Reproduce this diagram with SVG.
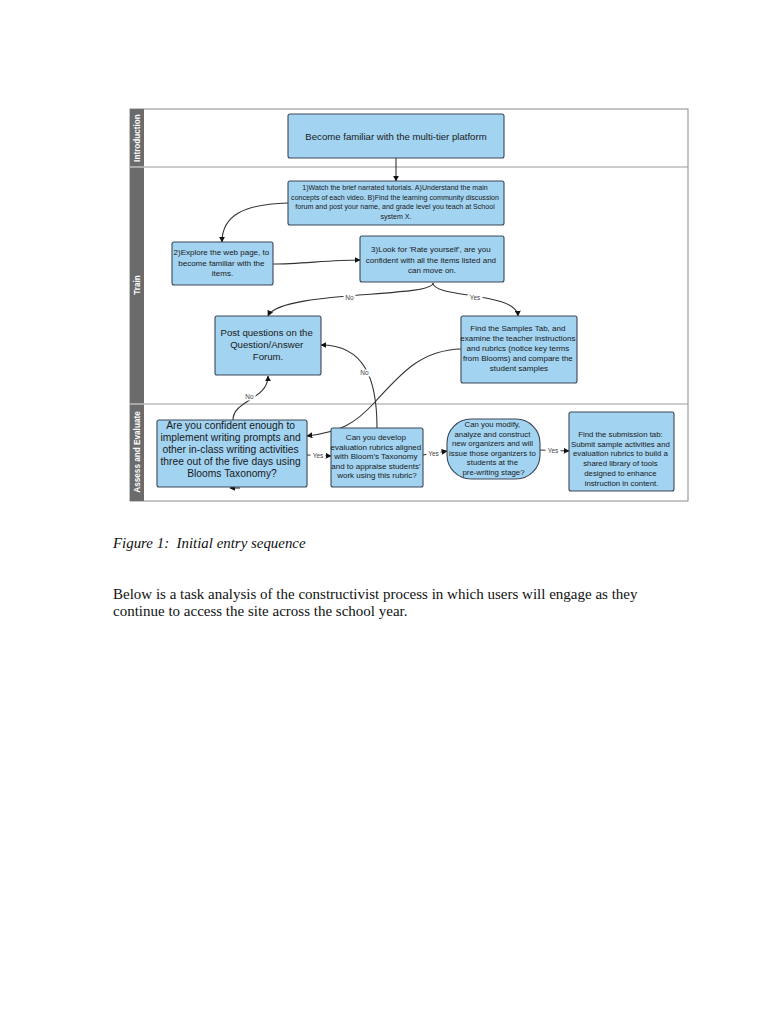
<svg xmlns="http://www.w3.org/2000/svg" width="768" height="1024" viewBox="0 0 768 1024">
<style>
.box{fill:#a2d3f1;stroke:#3b4858;stroke-width:1.1}
.t{font-family:"Liberation Sans",Arial,sans-serif;fill:#1a1a1a;text-anchor:middle}
.lane{font-family:"Liberation Sans",Arial,sans-serif;font-weight:bold;fill:#ffffff;font-size:8.2px;text-anchor:middle}
.c{fill:none;stroke:#333;stroke-width:1.1;marker-end:url(#ah)}
.lbl{font-family:"Liberation Sans",Arial,sans-serif;font-size:6.5px;fill:#444;text-anchor:middle}
.lb{fill:#ffffff}
.cap{font-family:"Liberation Serif","Times New Roman",serif;fill:#111}
</style>
<defs>
<marker id="ah" viewBox="0 0 10 10" refX="9" refY="5" markerWidth="6" markerHeight="6" markerUnits="userSpaceOnUse" orient="auto">
<path d="M0,0 L10,5 L0,10 z" fill="#111"/>
</marker>
</defs>
<rect width="768" height="1024" fill="#ffffff"/>
<g id="lanes">
<rect x="130" y="109" width="558" height="392" fill="#ffffff" stroke="#8a8a8a" stroke-width="1"/>
<rect x="130" y="109" width="14" height="392" fill="#6b6b6b"/>
<line x1="130" y1="167" x2="688" y2="167" stroke="#9a9a9a" stroke-width="1"/>
<line x1="130" y1="404" x2="688" y2="404" stroke="#9a9a9a" stroke-width="1"/>
<line x1="130" y1="167" x2="144" y2="167" stroke="#d0d0d0" stroke-width="1"/>
<line x1="130" y1="404" x2="144" y2="404" stroke="#d0d0d0" stroke-width="1"/>
<text class="lane" transform="translate(139.9,138) rotate(-90)">Introduction</text>
<text class="lane" transform="translate(139.9,285) rotate(-90)">Train</text>
<text class="lane" transform="translate(139.9,452) rotate(-90)">Assess and Evaluate</text>
</g>
<g id="connectors">
<path class="c" d="M396,158 L396,181"/>
<path class="c" d="M288,203 C245,204 222,215 222,242"/>
<path class="c" d="M273,264 C300,264 330,260 360,260"/>
<path class="c" d="M433,283 C433,298 280,290 268,316"/>
<path class="c" d="M433,283 C433,298 517,292 518,316"/>
<path class="c" d="M233,420 C233,400 268,400 268,376"/>
<path class="c" d="M377,428 C377,380 365,345 321,345"/>
<path class="c" d="M461,349 C420,350 400,375 375,402 C355,424 340,432 307,436"/>
<path class="c" d="M307,455 L331,456"/>
<path class="c" d="M423,455 L447,451"/>
<path class="c" d="M540,450 L569,451"/>
<path class="c" d="M240,488 L230,488"/>
<rect class="lb" x="343.5" y="294.5" width="12" height="7"/>
<text class="lbl" x="349.5" y="300.3">No</text>
<rect class="lb" x="467.5" y="294.5" width="15" height="7"/>
<text class="lbl" x="475" y="300.3">Yes</text>
<rect class="lb" x="243.5" y="393.5" width="12" height="7"/>
<text class="lbl" x="249.5" y="399.3">No</text>
<rect class="lb" x="358.5" y="369.5" width="12" height="7"/>
<text class="lbl" x="364.5" y="375.3">No</text>
<rect class="lb" x="310.5" y="451.5" width="15" height="7"/>
<text class="lbl" x="318" y="457.5">Yes</text>
<rect class="lb" x="426.5" y="449.5" width="14" height="7"/>
<text class="lbl" x="433.5" y="455.5">Yes</text>
<rect class="lb" x="545.5" y="446.5" width="15" height="7"/>
<text class="lbl" x="553" y="452.5">Yes</text>
</g>
<g id="n1">
<rect class="box" x="288" y="114" width="216" height="44" rx="2"/>
<text class="t" x="396" y="140" font-size="9.6">Become familiar with the multi-tier platform</text>
</g>
<g id="n2">
<rect class="box" x="288" y="181" width="216" height="44" rx="2"/>
<text class="t" font-size="7.1">
<tspan x="396" y="190">1)Watch the brief narrated tutorials. A)Understand the main</tspan>
<tspan x="396" y="199.5">concepts of each video. B)Find the learning community discussion</tspan>
<tspan x="396" y="209">forum and post your name, and grade level you teach at School</tspan>
<tspan x="396" y="218.5">system X.</tspan>
</text>
</g>
<g id="n3">
<rect class="box" x="172" y="242" width="101" height="43" rx="2"/>
<text class="t" font-size="8">
<tspan x="222.5" y="255">2)Explore the web page, to</tspan>
<tspan x="222.5" y="265.5">become familiar with the</tspan>
<tspan x="222.5" y="276">items.</tspan>
</text>
</g>
<g id="n4">
<rect class="box" x="360" y="236" width="144" height="46" rx="2"/>
<text class="t" font-size="8">
<tspan x="432" y="252">3)Look for 'Rate yourself', are you</tspan>
<tspan x="432" y="262.5">confident with all the items listed and</tspan>
<tspan x="432" y="273">can move on.</tspan>
</text>
</g>
<g id="n5">
<rect class="box" x="215" y="316" width="106" height="59" rx="2"/>
<text class="t" font-size="9.6">
<tspan x="268" y="335.5">Post questions on the</tspan>
<tspan x="268" y="347.5">Question/Answer</tspan>
<tspan x="268" y="359.5">Forum.</tspan>
</text>
</g>
<g id="n6">
<rect class="box" x="461" y="316" width="116" height="67" rx="2"/>
<text class="t" font-size="8">
<tspan x="519" y="331">Find the Samples Tab, and</tspan>
<tspan x="519" y="341.3">examine the teacher instructions</tspan>
<tspan x="519" y="351.3">and rubrics (notice key terms</tspan>
<tspan x="519" y="361">from Blooms) and compare the</tspan>
<tspan x="519" y="371">student samples</tspan>
</text>
</g>
<g id="n7">
<rect class="box" x="157" y="420" width="150" height="67" rx="2"/>
<text class="t" font-size="10.3">
<tspan x="232" y="428.8">Are you confident enough to</tspan>
<tspan x="232" y="440.8">implement writing prompts and</tspan>
<tspan x="232" y="452.8">other in-class writing activities</tspan>
<tspan x="232" y="464.8">three out of the five days using</tspan>
<tspan x="232" y="476.8">Blooms Taxonomy?</tspan>
</text>
</g>
<g id="n8">
<rect class="box" x="331" y="428" width="92" height="59" rx="2"/>
<text class="t" font-size="8">
<tspan x="377" y="440">Can you develop</tspan>
<tspan x="377" y="449.6">evaluation rubrics aligned</tspan>
<tspan x="377" y="459.2">with Bloom's Taxonomy</tspan>
<tspan x="377" y="468.8">and to appraise students'</tspan>
<tspan x="377" y="478.4">work using this rubric?</tspan>
</text>
</g>
<g id="n9">
<rect class="box" x="447" y="419" width="93" height="60" rx="24"/>
<text class="t" font-size="7.8">
<tspan x="493.5" y="427">Can you modify,</tspan>
<tspan x="493.5" y="436.6">analyze and construct</tspan>
<tspan x="493.5" y="446.2">new organizers and will</tspan>
<tspan x="493.5" y="455.8">issue those organizers to</tspan>
<tspan x="493.5" y="465.4">students at the</tspan>
<tspan x="493.5" y="475">pre-writing stage?</tspan>
</text>
</g>
<g id="n10">
<rect class="box" x="569" y="412" width="105" height="79" rx="2"/>
<text class="t" font-size="7.8">
<tspan x="621.5" y="437">Find the submission tab:</tspan>
<tspan x="621.5" y="446.7">Submit sample activities and</tspan>
<tspan x="621.5" y="456.4">evaluation rubrics to build a</tspan>
<tspan x="621.5" y="466.1">shared library of tools</tspan>
<tspan x="621.5" y="475.8">designed to enhance</tspan>
<tspan x="621.5" y="485.5">instruction in content.</tspan>
</text>
</g>
<g id="caption">
<text class="cap" x="113" y="548" font-size="14.9" font-style="italic" xml:space="preserve">Figure 1:  Initial entry sequence</text>
<text class="cap" x="113" y="598.5" font-size="15">Below is a task analysis of the constructivist process in which users will engage as they</text>
<text class="cap" x="113" y="616" font-size="15">continue to access the site across the school year.</text>
</g>
</svg>
